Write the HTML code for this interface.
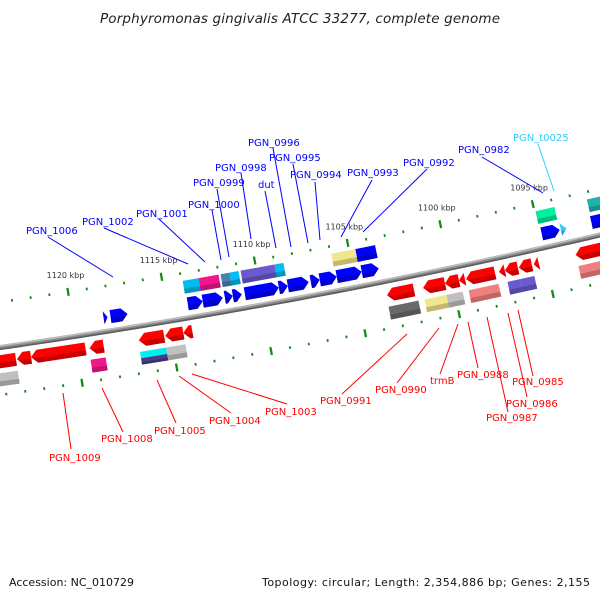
<!DOCTYPE html>
<html><head><meta charset="utf-8">
<style>
html,body{margin:0;padding:0;background:#fff;}
svg{display:block;font-family:"DejaVu Sans","Liberation Sans",sans-serif;}
.bl{fill:#0000ff;font-size:10px;}
.rd{fill:#ff0000;font-size:10px;}
.bll{stroke:#0000ff;stroke-width:1;}
.rdl{stroke:#ff0000;stroke-width:1;}
</style></head>
<body>
<svg id="map" width="600" height="600" viewBox="0 0 600 600" xmlns="http://www.w3.org/2000/svg">
<rect width="600" height="600" fill="#fff"/>
<text x="300" y="23" text-anchor="middle" font-style="italic" font-size="13.5" fill="#222" textLength="400">Porphyromonas gingivalis ATCC 33277, complete genome</text>
<g id="ticks"></g>
<g id="backbone"></g>
<g id="genes"></g>
<g id="kbl"></g>
<g>
<line class="bll" x1="48" y1="237" x2="113" y2="277"/>
<text class="bl" x="26" y="234">PGN_1006</text>
<line class="bll" x1="104" y1="228" x2="188" y2="264"/>
<text class="bl" x="82" y="225">PGN_1002</text>
<line class="bll" x1="159" y1="219" x2="205" y2="262"/>
<text class="bl" x="136" y="217">PGN_1001</text>
<line class="bll" x1="212" y1="210" x2="221" y2="260"/>
<text class="bl" x="188" y="208">PGN_1000</text>
<line class="bll" x1="217" y1="189" x2="229" y2="257"/>
<text class="bl" x="193" y="186">PGN_0999</text>
<line class="bll" x1="241" y1="173" x2="251" y2="239"/>
<text class="bl" x="215" y="171">PGN_0998</text>
<line class="bll" x1="265" y1="191" x2="276" y2="248"/>
<text class="bl" x="258" y="188">dut</text>
<line class="bll" x1="273" y1="148" x2="291" y2="247"/>
<text class="bl" x="248" y="146">PGN_0996</text>
<line class="bll" x1="293" y1="164" x2="308" y2="243"/>
<text class="bl" x="269" y="161">PGN_0995</text>
<line class="bll" x1="315" y1="182" x2="320" y2="240"/>
<text class="bl" x="290" y="178">PGN_0994</text>
<line class="bll" x1="372" y1="180" x2="341" y2="237"/>
<text class="bl" x="347" y="176">PGN_0993</text>
<line class="bll" x1="427" y1="169" x2="363" y2="232"/>
<text class="bl" x="403" y="166">PGN_0992</text>
<line class="bll" x1="482" y1="157" x2="543" y2="193"/>
<text class="bl" x="458" y="153">PGN_0982</text>
<line x1="538" y1="144" x2="554" y2="191" stroke="#33ccff"/>
<text x="513" y="141" font-size="10" fill="#33ccff">PGN_t0025</text>
</g>
<g>
<line class="rdl" x1="63" y1="393" x2="71" y2="449"/>
<text class="rd" x="49" y="461">PGN_1009</text>
<line class="rdl" x1="102" y1="388" x2="123" y2="432"/>
<text class="rd" x="101" y="442">PGN_1008</text>
<line class="rdl" x1="157" y1="380" x2="176" y2="423"/>
<text class="rd" x="154" y="434">PGN_1005</text>
<line class="rdl" x1="179" y1="376" x2="231" y2="413"/>
<text class="rd" x="209" y="424">PGN_1004</text>
<line class="rdl" x1="192" y1="374" x2="287" y2="404"/>
<text class="rd" x="265" y="415">PGN_1003</text>
<line class="rdl" x1="407" y1="334" x2="342" y2="394"/>
<text class="rd" x="320" y="404">PGN_0991</text>
<line class="rdl" x1="439" y1="328" x2="397" y2="383"/>
<text class="rd" x="375" y="393">PGN_0990</text>
<line class="rdl" x1="458" y1="324" x2="440" y2="374"/>
<text class="rd" x="430" y="384">trmB</text>
<line class="rdl" x1="468" y1="322" x2="478" y2="368"/>
<text class="rd" x="457" y="378">PGN_0988</text>
<line class="rdl" x1="487" y1="317" x2="508" y2="412"/>
<text class="rd" x="486" y="421">PGN_0987</text>
<line class="rdl" x1="508" y1="313" x2="527" y2="397"/>
<text class="rd" x="506" y="407">PGN_0986</text>
<line class="rdl" x1="518" y1="310" x2="533" y2="376"/>
<text class="rd" x="512" y="385">PGN_0985</text>
</g>
<text x="9" y="586" font-size="11" fill="#111">Accession: NC_010729</text>
<text x="590" y="586" font-size="11" fill="#111" text-anchor="end" textLength="328">Topology: circular; Length: 2,354,886 bp; Genes: 2,155</text>
</svg>
<script>
// ---- data (kbp) ----
const fwdTails = [1118.36,1117.99,1113.87,1113.07,1111.89,1111.46,1110.82,1109.00,1108.52,1107.29,1106.81,1105.90,1104.56,1094.88,1092.20];
const fwdTips  = [1118.15,1117.08,1113.07,1112.00,1111.46,1110.98,1109.00,1108.52,1107.40,1106.81,1105.90,1104.56,1103.65,1093.91,1091.20];
const trnaTails = [1093.85];
const trnaTips  = [1093.55];
const revTips  = [1125.50,1123.19,1122.44,1119.34,1116.72,1115.32,1114.36,1103.50,1101.57,1100.40,1099.65,1099.27,1097.51,1097.19,1096.44,1095.64,1093.39];
const revTails = [1123.24,1122.44,1119.55,1118.59,1115.38,1114.36,1113.88,1102.06,1100.40,1099.65,1099.33,1097.72,1097.19,1096.49,1095.74,1095.37,1091.20];
const cogInStart = [1113.93,1113.08,1111.90,1111.42,1110.83,1109.01,1105.96,1104.66,1094.94,1092.16];
const cogInEnd   = [1113.08,1112.01,1111.42,1110.94,1109.01,1108.53,1104.66,1103.60,1093.92,1091.20];
const cogInColor = ["#00bcf0","#f0168c","#4682b4","#00bcf0","#6a5acd","#00bcf0","#f0e68c","#0000ff","#00f0a0","#20b2aa"];
const cogOutStart = [1125.50,1119.38,1116.76,1115.37,1103.54,1101.62,1100.44,1099.26,1097.18,1096.48,1093.38];
const cogOutEnd   = [1123.23,1118.58,1115.37,1114.35,1101.94,1100.44,1099.58,1097.66,1096.48,1095.74,1091.20];
const cogOutColor = ["#c0c0c0","#f0168c","#00f0f0","#c0c0c0","#6a6a6a","#f0e68c","#c0c0c0","#f08080","#6a5acd","#6a5acd","#f08080"];
const cogOutColor2 = [null,null,"#483d8b",null,null,null,null,null,null,null,null];
const tickKbp = [];
for (let k = 1088; k <= 1127; k++) tickKbp.push(k);
const labelKbp = [1095,1100,1105,1110,1115,1120];

// ---- geometry ----
const L = 2354.886, CX = -1014.5, CY = -6716, RB = 7136;
const NS = "http://www.w3.org/2000/svg";
function pt(k, off){ const a = k/L*2*Math.PI, r = RB+off; return [CX + r*Math.sin(a), CY - r*Math.cos(a)]; }
function mk(tag, attrs, parent){ const e = document.createElementNS(NS, tag); for (const k in attrs) e.setAttribute(k, attrs[k]); parent.appendChild(e); return e; }
function poly(pts){ return pts.map(p => p[0].toFixed(2)+","+p[1].toFixed(2)).join(" "); }
function shade(hex, f){ const n = parseInt(hex.slice(1),16); const r=(n>>16)&255,g=(n>>8)&255,b=n&255; return "rgb("+Math.round(r*f)+","+Math.round(g*f)+","+Math.round(b*f)+")"; }

const gTicks = document.getElementById("ticks");
const gBack = document.getElementById("backbone");
const gGenes = document.getElementById("genes");
const gKbl = document.getElementById("kbl");

[-45, 47].forEach(off => {
  tickKbp.forEach(k => {
    const major = k % 5 === 0;
    const hl = major ? 4 : 1.3, hw = major ? 0.06 : 0.05;
    const p = poly([pt(k+hw, off-hl), pt(k-hw, off-hl), pt(k-hw, off+hl), pt(k+hw, off+hl)]);
    const t = mk("polygon", {points: p, fill: "#168a16"}, gTicks);
    
    
  });
});

function arcPath(off){ let d = ""; for (let k = 1130; k >= 1086; k -= 0.5){ const p = pt(k, off); d += (d ? "L" : "M") + p[0].toFixed(2) + "," + p[1].toFixed(2); } return d; }
[[0,"#8a8a8a",5],[-1.6,"#bdbdbd",1.6],[1.7,"#5e5e5e",1.6]].forEach(s => {
  const b = mk("path", {d: arcPath(s[0]), fill: "none", stroke: s[1], "stroke-width": s[2]}, gBack);
  
  
});

const H = 13;
function arrowPts(tail, tip, c, v1, v2){
  const len = Math.abs(tip - tail), dir = tip < tail ? -1 : 1;
  const hl = Math.min(0.33, len);
  const base = tip - dir*hl;
  const tipAt = v => tip + (base - tip)*Math.abs(v)/(H/2);
  if (v1 < 0 && v2 > 0) return [pt(tail,c+v1), pt(base,c+v1), pt(tip,c), pt(base,c+v2), pt(tail,c+v2)];
  return [pt(tail,c+v1), pt(base,c+v1), pt(tipAt(v1),c+v1), pt(tipAt(v2),c+v2), pt(base,c+v2), pt(tail,c+v2)];
}
function drawArrow(tail, tip, c, color, name){
  const g = mk("g", {}, gGenes);
  
  
  mk("polygon", {points: poly(arrowPts(tail, tip, c, -H/2, H/2)), fill: color}, g);
  mk("polygon", {points: poly(arrowPts(tail, tip, c, H*0.12, H/2)), fill: shade(color, 0.78)}, g);
}
function boxPts(s, e, c, v1, v2){ return [pt(s,c+v1), pt(e,c+v1), pt(e,c+v2), pt(s,c+v2)]; }
function drawBox(s, e, c, color, color2, name){
  const g = mk("g", {}, gGenes);
  
  
  if (color2){
    mk("polygon", {points: poly(boxPts(s,e,c,-H/2,0)), fill: color}, g);
    mk("polygon", {points: poly(boxPts(s,e,c,0,H/2)), fill: color2}, g);
    mk("polygon", {points: poly(boxPts(s,e,c,H*0.3,H/2)), fill: shade(color2,0.8)}, g);
  } else {
    mk("polygon", {points: poly(boxPts(s,e,c,-H/2,H/2)), fill: color}, g);
    mk("polygon", {points: poly(boxPts(s,e,c,H*0.12,H/2)), fill: shade(color,0.8)}, g);
  }
}
fwdTails.forEach((t,i) => drawArrow(t, fwdTips[i], -14, "#0000ff", "forward-gene"));
trnaTails.forEach((t,i) => drawArrow(t, trnaTips[i], -14, "#33ccff", "trna-gene"));
revTails.forEach((t,i) => drawArrow(t, revTips[i], 14, "#ff0000", "reverse-gene"));
cogInStart.forEach((s,i) => drawBox(s, cogInEnd[i], -31, cogInColor[i], null, "forward-cog-box"));
cogOutStart.forEach((s,i) => drawBox(s, cogOutEnd[i], 32, cogOutColor[i], cogOutColor2[i], "reverse-cog-box"));

labelKbp.forEach(k => {
  const p = pt(k, -62);
  const t = mk("text", {x: p[0].toFixed(1), y: (p[1]+3).toFixed(1), "text-anchor": "middle", "font-size": "8", fill: "#333"}, gKbl);
  t.textContent = k + " kbp";
  
  
});
</script>
</body></html>
